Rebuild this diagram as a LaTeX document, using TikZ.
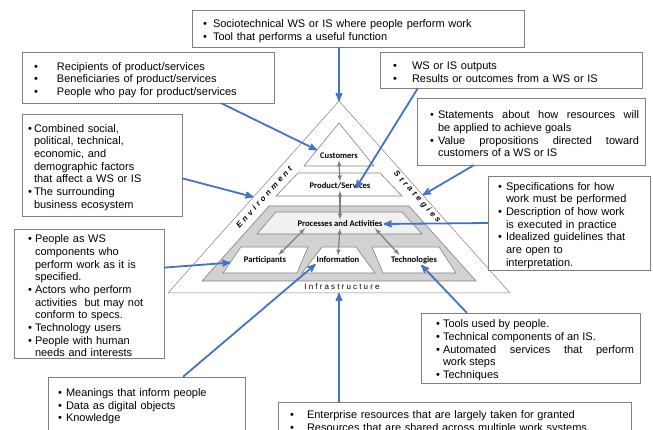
\documentclass[tikz,border=0pt]{standalone}
\usepackage{fontspec}
\setmainfont{Liberation Sans}
\newfontfamily\pyrfont{Carlito}
\newfontfamily\sidefont[LetterSpace=38]{Liberation Sans}
\newfontfamily\basefont[LetterSpace=27]{Liberation Sans}
\usetikzlibrary{arrows,calc}
\definecolor{wsblue}{RGB}{68,114,196}
\definecolor{wsline}{RGB}{128,128,128}
\definecolor{wsband}{RGB}{210,210,210}
\definecolor{wsproc}{RGB}{241,241,241}
\definecolor{wslink}{RGB}{125,125,125}

\newenvironment{blist}[2]{%
  \begin{list}{\makebox[0pt][l]{\textbullet}}{%
    \setlength{\leftmargin}{#2}\setlength{\labelsep}{\dimexpr #2-#1\relax}%
    \setlength{\labelwidth}{0pt}\setlength{\itemindent}{0pt}%
    \setlength{\rightmargin}{6pt}\setlength{\itemsep}{0pt}%
    \setlength{\parsep}{0pt}\setlength{\topsep}{0pt}\setlength{\partopsep}{0pt}}}%
  {\end{list}}

\begin{document}
\begin{tikzpicture}[x=1pt, y=-1pt,
    ws box/.style={draw=wsline, fill=white, inner xsep=0pt, inner ysep=0pt, align=left, font=\fontsize{11}{12.7}\selectfont},
    ws part/.style={draw=wsline, line width=0.6pt},
    ws label/.style={font=\pyrfont\bfseries\fontsize{8.6}{10}\selectfont, inner sep=1pt},
    ws side/.style={font=\sidefont\bfseries\itshape\fontsize{8}{9}\selectfont, inner sep=1pt},
    ws base/.style={font=\basefont\fontsize{8}{9}\selectfont, inner sep=1pt},
    pointer/.style={draw=wsblue, line width=1.8pt, ->, >=stealth'},
    link/.style={draw=wslink, line width=1.2pt, <->, >=latex'}
  ]
  \useasboundingbox (0,0) rectangle (653,430);
  \clip (0,0) rectangle (653,430);

  \coordinate (apex) at (339,101); \coordinate (obl) at (168,293); \coordinate (obr) at (510,293);
  \coordinate (capex) at (339,123); \coordinate (cbl) at (304,166); \coordinate (cbr) at (374,166);
  \coordinate (ptl) at (298,173); \coordinate (ptr) at (380,173); \coordinate (pbr) at (402,196); \coordinate (pbl) at (276,196);
  \coordinate (btl) at (269,206); \coordinate (btr) at (409,206); \coordinate (bbr) at (476,281); \coordinate (bbl) at (202,281);
  \coordinate (qtl) at (276,212); \coordinate (qtr) at (402,212); \coordinate (qbr) at (422,234); \coordinate (qbl) at (257,234);
  \coordinate (atl) at (241,247); \coordinate (atr) at (308,247); \coordinate (abr) at (297,273); \coordinate (abl) at (223,273);
  \coordinate (itl) at (322,247); \coordinate (itr) at (356,247); \coordinate (ibr) at (375,273); \coordinate (ibl) at (302,273);
  \coordinate (ttl) at (372,247); \coordinate (ttr) at (439,247); \coordinate (tbr) at (456,273); \coordinate (tbl) at (383,273);

  \draw [ws part, line width=0.5pt] (apex) -- (obl) -- (obr) -- cycle;
  \filldraw [ws part, fill=white] (capex) -- (cbl) -- (cbr) -- cycle;
  \filldraw [ws part, fill=white] (ptl) -- (ptr) -- (pbr) -- (pbl) -- cycle;
  \filldraw [ws part, fill=wsband] (btl) -- (btr) -- (bbr) -- (bbl) -- cycle;
  \filldraw [ws part, fill=wsproc] (qtl) -- (qtr) -- (qbr) -- (qbl) -- cycle;
  \filldraw [ws part, fill=white] (atl) -- (atr) -- (abr) -- (abl) -- cycle;
  \filldraw [ws part, fill=white] (itl) -- (itr) -- (ibr) -- (ibl) -- cycle;
  \filldraw [ws part, fill=white] (ttl) -- (ttr) -- (tbr) -- (tbl) -- cycle;

  \node [ws label] (customers) at (339,156) {Customers};
  \node [ws label] (product) at (340,186) {Product/Services};
  \node [ws label] (processes) at (340,224) {Processes and Activities};
  \node [ws label] (participants) at (265,260) {Participants};
  \node [ws label] (information) at (338,260) {Information};
  \node [ws label] (technologies) at (414,260) {Technologies};
  \node [ws side, rotate=48] (environment) at (264,197) {Environment};
  \node [ws side, rotate=-48] (strategies) at (417,197) {Strategies};
  \node [ws base] (infrastructure) at (342,287) {Infrastructure};

  \begin{scope}[every path/.style={link}]
  \path (customers.south) -- (product.north);
  \path (product.south) -- (processes.north);
  \path (processes.south) -- (information.north);
  \path ($(processes.south west)!0.1!(processes.south east)$) -- ($(participants.north)!0.6!(participants.north east)$);
  \path ($(processes.south east)!0.1!(processes.south west)$) -- ($(technologies.north)!0.6!(technologies.north west)$);
  \end{scope}

  \node [ws box, text width=332pt, minimum height=37pt] (top) at (358,28.5) {\begin{blist}{11pt}{21pt}
    \item Sociotechnical WS or IS where people perform work
    \item Tool that performs a useful function
  \end{blist}};
  \node [ws box, text width=252pt, minimum height=51pt] (cust) at (148,77.5) {\begin{blist}{12pt}{35pt}
    \item Recipients of product/services
    \item Beneficiaries of product/services
    \item People who pay for product/services
  \end{blist}};
  \node [ws box, text width=262pt, minimum height=36pt] (outputs) at (511,70) {\begin{blist}{13pt}{32pt}
    \item WS or IS outputs
    \item Results or outcomes from a WS or IS
  \end{blist}};
  \node [ws box, align=justify, text width=228pt, minimum height=67pt] (strat) at (531,131.5) {\begin{blist}{13pt}{21pt}
    \item Statements about how resources will\linebreak be applied to achieve goals
    \item Value propositions directed toward\linebreak customers of a WS or IS
  \end{blist}};
  \node [ws box, text width=160pt, minimum height=102pt] (env) at (102,165) {\begin{blist}{6pt}{12pt}
    \item Combined social,\newline political, technical,\newline economic, and\newline demographic factors\newline that affect a WS or IS
    \item The surrounding\newline business ecosystem
  \end{blist}};
  \node [ws box, text width=162pt, minimum height=94pt] (proc) at (569,223) {\begin{blist}{10pt}{18pt}
    \item Specifications for how\newline work must be performed
    \item Description of how work\newline is executed in practice
    \item Idealized guidelines that\newline are open to\newline interpretation.
  \end{blist}};
  \node [ws box, text width=150pt, minimum height=129pt] (part) at (89,293.5) {\begin{blist}{14pt}{21pt}
    \item People as WS\newline components who\newline perform work as it is\newline specified.
    \item Actors who perform\newline activities\ \ but may not\newline conform to specs.
    \item Technology users
    \item People with human\newline needs and interests
  \end{blist}};
  \node [ws box, align=justify, text width=219pt, minimum height=70pt] (tech) at (530.5,348) {\begin{blist}{15pt}{22pt}
    \item Tools used by people.
    \item Technical components of an IS.
    \item Automated services that perform\linebreak work steps
    \item Techniques
  \end{blist}};
  \node [ws box, text width=197pt, minimum height=54pt] (info) at (146.5,404) {\begin{blist}{10pt}{18pt}
    \item Meanings that inform people
    \item Data as digital objects
    \item Knowledge
  \end{blist}};
  \node [ws box, text width=353pt, minimum height=35pt] (infra) at (454.5,419.5) {\begin{blist}{12pt}{29pt}
    \item Enterprise resources that are largely taken for granted
    \item Resources that are shared across multiple work systems.
  \end{blist}};

  \begin{scope}[every path/.style={pointer}]
  \path (top.south -| apex) -- (apex);
  \path ($(cust.south west)!0.79!(cust.south east)$) -- ($(capex)!0.63!(cbl)$);
  \path ($(outputs.south west)!0.145!(outputs.south east)$) -- ($(product.south)!0.5!(product.east)$);
  \path ($(strat.south west)!0.25!(strat.south east)$) -- ($(apex)!0.49!(obr)$);
  \path ($(env.north east)!0.63!(env.south east)$) -- ($(apex)!0.5!(obl)$);
  \path (proc.west) -- (processes.east);
  \path ($(part.north east)!0.3!(part.south east)$) -- ($(atl)!0.6!(abl)$);
  \path ($(tech.north west)!0.21!(tech.north east)$) -- ($(technologies.south)!0.3!(technologies.south east)$);
  \path ($(info.north west)!0.685!(info.north east)$) -- (information.south west);
  \path (infra.north -| apex) -- ($(obl)!0.5!(obr)$);
  \end{scope}
\end{tikzpicture}
\end{document}
